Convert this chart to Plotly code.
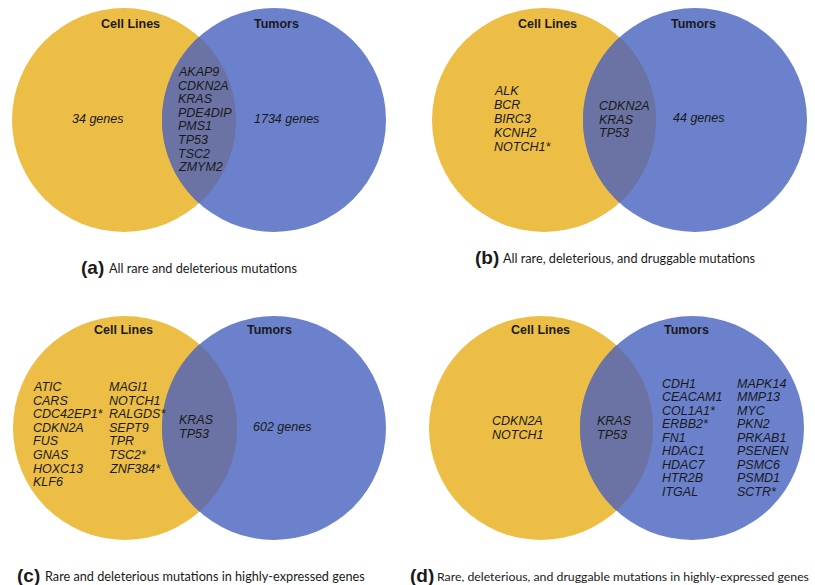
import numpy as np
import plotly.graph_objects as go

W, H = 815, 585

# Panel labels and captions
panel_tags = ["(a)", "(b)", "(c)", "(d)"]
captions = [
    "All rare and deleterious mutations",
    "All rare, deleterious, and druggable mutations",
    "Rare and deleterious mutations in highly-expressed genes",
    "Rare, deleterious, and druggable mutations in highly-expressed genes",
]
set_names = ["Cell Lines", "Tumors"]

# Gene sets per panel: cell-line only, shared, tumor only (list or count)
a_cell_only = "34 genes"
a_shared = ["AKAP9", "CDKN2A", "KRAS", "PDE4DIP", "PMS1", "TP53", "TSC2", "ZMYM2"]
a_tumor_only = "1734 genes"

b_cell_only = ["ALK", "BCR", "BIRC3", "KCNH2", "NOTCH1*"]
b_shared = ["CDKN2A", "KRAS", "TP53"]
b_tumor_only = "44 genes"

c_cell_only_1 = ["ATIC", "CARS", "CDC42EP1*", "CDKN2A", "FUS", "GNAS", "HOXC13", "KLF6"]
c_cell_only_2 = ["MAGI1", "NOTCH1", "RALGDS*", "SEPT9", "TPR", "TSC2*", "ZNF384*"]
c_shared = ["KRAS", "TP53"]
c_tumor_only = "602 genes"

d_cell_only = ["CDKN2A", "NOTCH1"]
d_shared = ["KRAS", "TP53"]
d_tumor_only_1 = ["CDH1", "CEACAM1", "COL1A1*", "ERBB2*", "FN1", "HDAC1", "HDAC7", "HTR2B", "ITGAL"]
d_tumor_only_2 = ["MAPK14", "MMP13", "MYC", "PKN2", "PRKAB1", "PSENEN", "PSMC6", "PSMD1", "SCTR*"]

YELLOW = "#EDBE45"
BLUE = "#6B81CC"
LENS = "#6A73A3"
INK = "#1a1a1a"
GENE_FONT = dict(family="Liberation Sans, Arial", size=12.5, color=INK)
HEAD_FONT = dict(family="Liberation Sans, Arial", size=12.5, color=INK)

fig = go.Figure()
shapes = []
annotations = []


def circle(cx, cy, r, color):
    shapes.append(dict(type="circle", xref="x", yref="y",
                       x0=cx - r, x1=cx + r, y0=cy - r, y1=cy + r,
                       fillcolor=color, line=dict(width=0), layer="below"))


def lens(c1, c2, r, color, n=80):
    # intersection region of two equal circles centred at (c1, cy), (c2, cy)
    (x1, cy), (x2, _) = c1, c2
    d = x2 - x1
    half = np.arccos(d / (2 * r))
    t1 = np.linspace(-half, half, n)          # arc of left circle (right side)
    t2 = np.linspace(np.pi - half, np.pi + half, n)  # arc of right circle (left side)
    xs = np.concatenate([x1 + r * np.cos(t1), x2 + r * np.cos(t2)])
    ys = np.concatenate([cy + r * np.sin(t1), cy + r * np.sin(t2)])
    path = "M " + " L ".join(f"{x:.2f},{y:.2f}" for x, y in zip(xs, ys)) + " Z"
    shapes.append(dict(type="path", xref="x", yref="y", path=path,
                       fillcolor=color, line=dict(width=0), layer="below"))


def text(x, y, s, font, xanchor="left"):
    annotations.append(dict(x=x, y=y, xref="x", yref="y", text=s, showarrow=False,
                            xanchor=xanchor, yanchor="middle", font=font))


def gene_list(x, y0, genes, step):
    for i, g in enumerate(genes):
        text(x, y0 + i * step, f"<i>{g}</i>", GENE_FONT)


def venn(cy, cx_left, cx_right, r=112):
    circle(cx_left, cy, r, YELLOW)
    circle(cx_right, cy, r, BLUE)
    lens((cx_left, cy), (cx_right, cy), r, LENS)


def caption(x, y, tag, body, size=12.7, gap=28):
    text(x, y, f"<b>{tag}</b>", dict(family="Liberation Sans, Arial", size=19, color=INK))
    text(x + gap, y + 1, body, dict(family="Lato, Open Sans", size=size, color=INK))


# (a)
venn(120, 124, 274)
text(130, 24, f"<b>{set_names[0]}</b>", HEAD_FONT, "center")
text(276, 24, f"<b>{set_names[1]}</b>", HEAD_FONT, "center")
gene_list(176, 72, a_shared, 13.6)
text(97, 119, f"<i>{a_cell_only}</i>", GENE_FONT, "center")
text(286, 119, f"<i>{a_tumor_only}</i>", GENE_FONT, "center")
caption(79, 267, panel_tags[0], captions[0])

# (b)
venn(120, 544, 695)
text(547, 24, f"<b>{set_names[0]}</b>", HEAD_FONT, "center")
text(693, 24, f"<b>{set_names[1]}</b>", HEAD_FONT, "center")
gene_list(492, 91, b_cell_only, 14)
gene_list(597, 106, b_shared, 13.6)
text(698, 118, f"<i>{b_tumor_only}</i>", GENE_FONT, "center")
caption(473, 257, panel_tags[1], captions[1])

# (c)
venn(428, 125, 274)
text(123, 330, f"<b>{set_names[0]}</b>", HEAD_FONT, "center")
text(269, 330, f"<b>{set_names[1]}</b>", HEAD_FONT, "center")
gene_list(31, 387, c_cell_only_1, 13.6)
gene_list(107, 387, c_cell_only_2, 13.6)
gene_list(177, 420, c_shared, 13.6)
text(282, 427, f"<i>{c_tumor_only}</i>", GENE_FONT, "center")
caption(15, 575, panel_tags[2], captions[2])

# (d)
venn(428, 541, 692)
text(540, 330, f"<b>{set_names[0]}</b>", HEAD_FONT, "center")
text(686, 330, f"<b>{set_names[1]}</b>", HEAD_FONT, "center")
gene_list(490, 421, d_cell_only, 14.3)
gene_list(595, 421, d_shared, 14.3)
gene_list(660, 384, d_tumor_only_1, 13.46)
gene_list(735, 384, d_tumor_only_2, 13.46)
caption(408, 575, panel_tags[3], captions[3], size=12.3, gap=27)

fig.update_layout(
    width=W, height=H,
    margin=dict(l=0, r=0, t=0, b=0),
    paper_bgcolor="white", plot_bgcolor="white",
    xaxis=dict(range=[0, W], visible=False, fixedrange=True),
    yaxis=dict(range=[H, 0], visible=False, fixedrange=True),
    shapes=shapes, annotations=annotations, showlegend=False,
)

fig.write_html("out.html", config=dict(displayModeBar=False))
